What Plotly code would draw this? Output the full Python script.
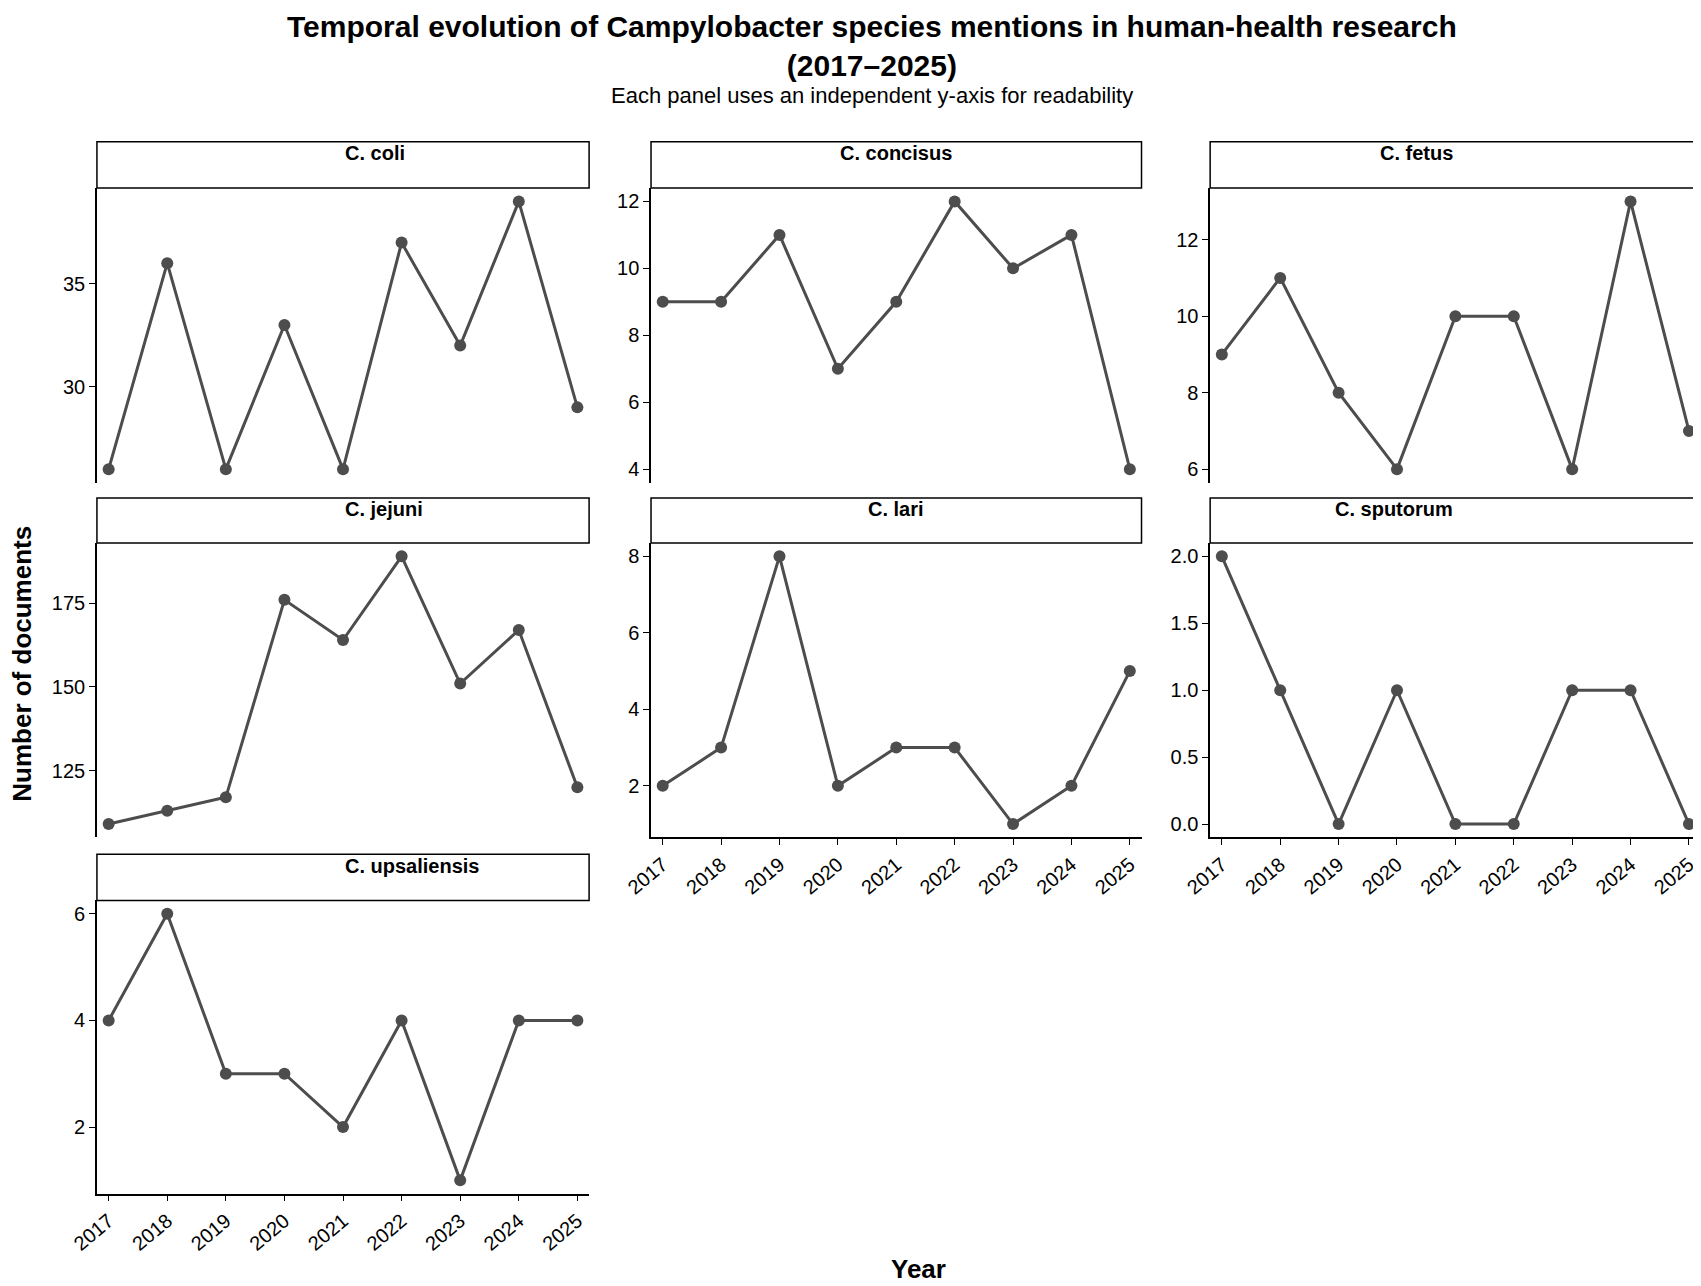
import plotly.graph_objects as go

years = [2017, 2018, 2019, 2020, 2021, 2022, 2023, 2024, 2025]
species = ["C. coli", "C. concisus", "C. fetus", "C. jejuni", "C. lari", "C. sputorum", "C. upsaliensis"]
coli = [26, 36, 26, 33, 26, 37, 32, 39, 29]
concisus = [9, 9, 11, 7, 9, 12, 10, 11, 4]
fetus = [9, 11, 8, 6, 10, 10, 6, 13, 7]
jejuni = [109, 113, 117, 176, 164, 189, 151, 167, 120]
lari = [2, 3, 8, 2, 3, 3, 1, 2, 5]
sputorum = [2, 1, 0, 1, 0, 0, 1, 1, 0]
upsaliensis = [4, 6, 3, 3, 2, 4, 1, 4, 4]
series = [coli, concisus, fetus, jejuni, lari, sputorum, upsaliensis]
dticks = [5, 2, 2, 25, 2, 0.5, 2]

cols = [(0.037, 0.331), (0.368, 0.661), (0.702, 0.995)]
rows = [((0.631, 0.860), 0.896), ((0.355, 0.584), 0.619), ((0.078, 0.306), 0.342)]
grey = "#4d4d4d"

fig = go.Figure()
layout = {}
for i, (name, vals) in enumerate(zip(species, series)):
    r, c = divmod(i, 3)
    n = "" if i == 0 else str(i + 1)
    fig.add_trace(go.Scatter(x=years, y=vals, mode="lines+markers", xaxis="x" + n, yaxis="y" + n,
                             line=dict(color=grey, width=3), marker=dict(color=grey, size=12),
                             showlegend=False))
    bottom = (i + 3) >= len(species)
    lo, hi = min(vals), max(vals)
    pad = (hi - lo) * 0.05
    layout["xaxis" + n] = dict(domain=cols[c], anchor="y" + n, range=[2016.8, 2025.2],
                               tickvals=years, ticktext=[str(y) for y in years] if bottom else [],
                               showticklabels=bottom, tickangle=-40, showline=bottom,
                               linecolor="black", linewidth=1.5, ticks="outside" if bottom else "",
                               ticklen=6, tickcolor="black", showgrid=False, zeroline=False,
                               tickfont=dict(size=20, color="black"))
    layout["yaxis" + n] = dict(domain=rows[r][0], anchor="x" + n, range=[lo - pad, hi + pad],
                               dtick=dticks[i], tickformat=".1f" if dticks[i] < 1 else "d",
                               showline=True, linecolor="black", linewidth=1.5, ticks="outside",
                               ticklen=6, tickcolor="black", showgrid=False, zeroline=False,
                               tickfont=dict(size=20, color="black"))
    fig.add_shape(type="rect", xref="paper", yref="paper", x0=cols[c][0], x1=cols[c][1],
                  y0=rows[r][0][1], y1=rows[r][1], line=dict(color="black", width=1.5),
                  fillcolor="white")
    fig.add_annotation(text="<b>" + name + "</b>", xref="paper", yref="paper",
                       x=sum(cols[c]) / 2, y=(rows[r][0][1] + rows[r][1]) / 2 + 0.009,
                       yanchor="middle", showarrow=False, font=dict(size=20, color="black"))

fig.update_layout(**layout)
fig.add_annotation(text="<b>Temporal evolution of Campylobacter species mentions in human-health research<br>(2017–2025)</b>",
                   xref="paper", yref="paper", x=0.5, y=1.0, yanchor="top", showarrow=False,
                   font=dict(size=30, color="black"))
fig.add_annotation(text="Each panel uses an independent y-axis for readability", xref="paper", yref="paper",
                   x=0.5, y=0.932, yanchor="middle", showarrow=False, font=dict(size=22, color="black"))
fig.add_annotation(text="<b>Number of documents</b>", xref="paper", yref="paper", x=-0.018, xanchor="left",
                   y=0.49, textangle=-90, showarrow=False, font=dict(size=26, color="black"))
fig.add_annotation(text="<b>Year</b>", xref="paper", yref="paper", x=0.528, y=0.006, showarrow=False,
                   font=dict(size=26, color="black"))
fig.update_layout(width=1701, height=1286, margin=dict(l=0, r=0, t=0, b=0),
                  plot_bgcolor="white", paper_bgcolor="white",
                  font=dict(family="Liberation Sans, Arial"))
fig.write_html("out.html")
